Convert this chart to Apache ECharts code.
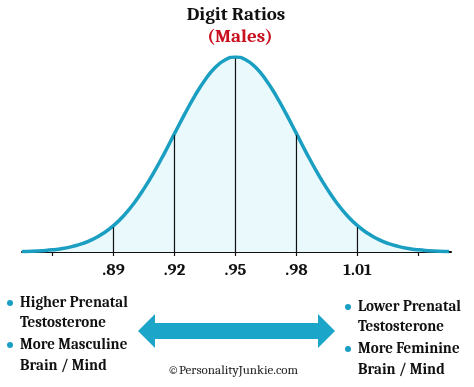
<!DOCTYPE html>
<html>
<head>
<meta charset="utf-8">
<script src="https://cdn.jsdelivr.net/npm/echarts@6/dist/echarts.min.js"></script>
<style>
html,body{margin:0;padding:0;background:#fff;}
#chart{width:474px;height:387px;}
</style>
</head>
<body>
<div id="chart"></div>
<script>
// Digit ratio values (x) and relative curve height (y, peak = 100)
const ratioValues = [0.845,0.850,0.855,0.860,0.865,0.870,0.875,0.880,0.885,0.890,0.895,0.900,0.905,0.910,0.915,0.920,0.925,0.930,0.935,0.940,0.945,0.950,0.955,0.960,0.965,0.970,0.975,0.980,0.985,0.990,0.995,1.000,1.005,1.010,1.015,1.020,1.025,1.030,1.035,1.040,1.045,1.050,1.055];
const curveHeights = [0.2,0.4,0.7,1.1,1.8,2.9,4.4,6.6,9.6,13.5,18.6,24.9,32.5,41.1,50.6,60.7,70.7,80.1,88.2,94.6,98.6,100,98.6,94.6,88.2,80.1,70.7,60.7,50.6,41.1,32.5,24.9,18.6,13.5,9.6,6.6,4.4,2.9,1.8,1.1,0.7,0.4,0.2];
// Labelled ticks and the vertical marker lines up to the curve
const tickValues = [0.89,0.92,0.95,0.98,1.01];
const tickLabels = ['.89','.92','.95','.98','1.01'];
const markerHeights = [13.5,60.7,100,60.7,13.5];
const minorTicks = [0.86,1.04];

const titleText = 'Digit Ratios';
const subtitleText = '(Males)';
const leftNotes = [['Higher Prenatal','Testosterone'],['More Masculine','Brain / Mind']];
const rightNotes = [['Lower Prenatal','Testosterone'],['More Feminine','Brain / Mind']];
const creditText = '\u00A9PersonalityJunkie.com';

const teal = '#1a9fc2';
const serif = 'Cambria, "DejaVu Serif", serif';

const chart = echarts.init(document.getElementById('chart'), null, {renderer:'canvas'});

const series = [{
  type:'line',
  data: ratioValues.map((v,i)=>[v,curveHeights[i]]),
  smooth:true,
  symbol:'none',
  z:2,
  lineStyle:{color:teal,width:3.5},
  areaStyle:{color:'#e9f9fc',opacity:1}
}];
tickValues.forEach((v,i)=>{
  series.push({
    type:'line',
    data:[[v,0],[v,markerHeights[i]-0.8]],
    symbol:'none',
    z:4,
    lineStyle:{color:'#111',width:1.2},
    silent:true
  });
});

function noteGraphics(notes, x, yStart, bulletX){
  const g=[];
  const ys=[[yStart, yStart+20],[yStart+42, yStart+63]];
  notes.forEach((pair,k)=>{
    g.push({type:'circle',shape:{cx:bulletX,cy:ys[k][0],r:3},style:{fill:teal}});
    pair.forEach((line,j)=>{
      g.push({type:'text',x:x,y:ys[k][j],style:{text:line,font:'bold 15px '+serif,fill:'#111',textVerticalAlign:'middle',textAlign:'left'}});
    });
  });
  return g;
}

const arrowY = 331, tipL = 138, tipR = 335, headLen = 17, headHalf = 17, shaftHalf = 8;

const option = {
  animation:false,
  grid:{left:22,right:23,top:57,bottom:135,containLabel:false},
  xAxis:{
    type:'value',min:0.845,max:1.056,
    splitLine:{show:false},
    axisLine:{show:true,lineStyle:{color:'#111',width:2}},
    axisTick:{show:true,length:4,customValues:minorTicks.concat(tickValues),lineStyle:{color:'#111',width:1.2}},
    axisLabel:{
      customValues:tickValues,
      formatter:(v)=>{const i=tickValues.findIndex(t=>Math.abs(t-v)<1e-6);return i>=0?tickLabels[i]:'';},
      fontFamily:serif,fontWeight:'bold',fontSize:17,color:'#111',margin:10
    }
  },
  yAxis:{type:'value',min:0,max:100,show:false},
  series:series,
  graphic:[
    {type:'text',x:236,y:15,style:{text:titleText,font:'bold 19px '+serif,fill:'#111',textAlign:'center',textVerticalAlign:'middle'}},
    {type:'text',x:240,y:37,style:{text:subtitleText,font:'bold 19px '+serif,fill:'#c8101e',textAlign:'center',textVerticalAlign:'middle'}},
    {type:'polygon',shape:{points:[
      [tipL,arrowY],[tipL+headLen,arrowY-headHalf],[tipL+headLen,arrowY-shaftHalf],
      [tipR-headLen,arrowY-shaftHalf],[tipR-headLen,arrowY-headHalf],[tipR,arrowY],
      [tipR-headLen,arrowY+headHalf],[tipR-headLen,arrowY+shaftHalf],
      [tipL+headLen,arrowY+shaftHalf],[tipL+headLen,arrowY+headHalf]
    ]},style:{fill:'#1aa5c9'}},
    {type:'text',x:233,y:370,style:{text:creditText,font:'13px '+serif,fill:'#222',textAlign:'center',textVerticalAlign:'middle'}}
  ].concat(noteGraphics(leftNotes,20,303,10)).concat(noteGraphics(rightNotes,358,307,348))
};
chart.setOption(option);
</script>
</body>
</html>
